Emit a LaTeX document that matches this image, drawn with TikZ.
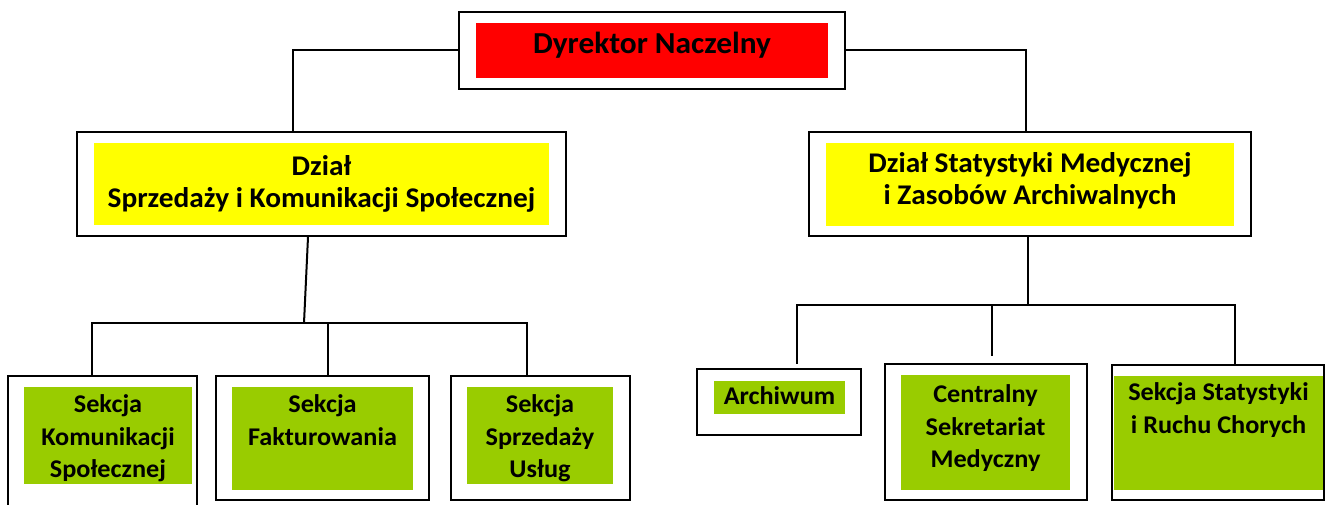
\documentclass[tikz,border=0pt]{standalone}
\usepackage{fontspec}
\setmainfont{Carlito}[FakeStretch=1.03]
\usepackage{xcolor}
\definecolor{myred}{RGB}{255,0,0}
\definecolor{myyellow}{RGB}{255,255,0}
\definecolor{mygreen}{RGB}{153,204,0}
\usepackage{tikz}
\newcommand{\cell}[4]{\parbox[c][#2][t]{#1}{\centering\vspace*{#3}#4}}
\newcommand{\bigtext}{\fontsize{30.5}{34}\selectfont\bfseries}
\newcommand{\midtext}{\fontsize{28.5}{32}\selectfont\bfseries}
\newcommand{\smalltext}{\fontsize{25.5}{32.5}\selectfont\bfseries}
\tikzset{
    frame/.style={draw, line width=2.2pt, inner sep=0pt},
    cellbox/.style={inner sep=0pt},
    head/.style={cellbox, fill=myred},
    dept/.style={cellbox, fill=myyellow},
    sect/.style={cellbox, fill=mygreen},
    link/.style={line width=2pt}
}
\begin{document}
\begin{tikzpicture}[x=1pt, y=-1pt]
      \clip (0,0) rectangle (1327,505);
      \fill[white] (0,0) rectangle (1327,505);

      \node[frame, minimum width=386, minimum height=77] (dyr-outer) at (652,50.5) {};
      \node[head] (dyr) at (652,50.5) {\cell{352pt}{55pt}{9pt}{\bigtext Dyrektor Naczelny}};

      \node[frame, minimum width=489, minimum height=104] (dzS-outer) at (321.5,184) {};
      \node[dept] (dzS) at (321.5,184) {\cell{455pt}{82pt}{13pt}{\midtext Dział\\Sprzedaży i Komunikacji Społecznej}};
      \node[frame, minimum width=442, minimum height=104] (dzM-outer) at (1030,184) {};
      \node[dept] (dzM) at (1030,184.5) {\cell{408pt}{83pt}{10pt}{\midtext Dział Statystyki Medycznej\\i Zasobów Archiwalnych}};

      \node[frame, minimum width=189, minimum height=154] (sk1-outer) at (102.5,453) {};
      \node[sect] (sk1) at (108,435.5) {\cell{168pt}{97pt}{8pt}{\smalltext Sekcja\\Komunikacji\\Społecznej}};
      \node[frame, minimum width=213, minimum height=124] (sk2-outer) at (322.5,438) {};
      \node[sect] (sk2) at (322.5,438.5) {\cell{181pt}{103pt}{8pt}{\smalltext Sekcja\\Fakturowania}};
      \node[frame, minimum width=179, minimum height=124] (sk3-outer) at (540.5,438) {};
      \node[sect] (sk3) at (540,435.5) {\cell{146pt}{97pt}{8pt}{\smalltext Sekcja\\Sprzedaży\\Usług}};

      \node[frame, minimum width=164, minimum height=66] (arch-outer) at (779,402) {};
      \node[sect] (arch) at (779.5,397.5) {\cell{131pt}{33pt}{6pt}{\smalltext Archiwum}};
      \node[frame, minimum width=202, minimum height=136] (csm-outer) at (986,432) {};
      \node[sect] (csm) at (985.5,432.5) {\cell{169pt}{115pt}{10pt}{\smalltext Centralny\\Sekretariat\\Medyczny}};
      \node[frame, minimum width=212, minimum height=135] (sst-outer) at (1218,432.5) {};
      \node[sect] (sst) at (1218.5,433) {\cell{209pt}{114pt}{7pt}{\smalltext Sekcja Statystyki\\i Ruchu Chorych}};

      \coordinate (busS) at (304,323);
      \coordinate (busM) at (1028,305);

      \draw[link] (dyr-outer.west) -| ([xshift=-28.5]dzS-outer.north);
      \draw[link] (dyr-outer.east) -| ([xshift=-4]dzM-outer.north);

      \draw[link] ([xshift=-13.5]dzS-outer.south) -- (busS);
      \draw[link] (busS) -| ([xshift=-10.5]sk1-outer.north);
      \draw[link] (busS) -| ([xshift=5.5]sk2-outer.north);
      \draw[link] (busS) -| ([xshift=-13.5]sk3-outer.north);

      \draw[link] ([xshift=-2]dzM-outer.south) -- (busM);
      \draw[link, shorten >=4pt] (busM) -| ([xshift=18]arch-outer.north);
      \draw[link, shorten >=7pt] (busM) -| ([xshift=6]csm-outer.north);
      \draw[link] (busM) -| ([xshift=17]sst-outer.north);
    \end{tikzpicture}
\end{document}
